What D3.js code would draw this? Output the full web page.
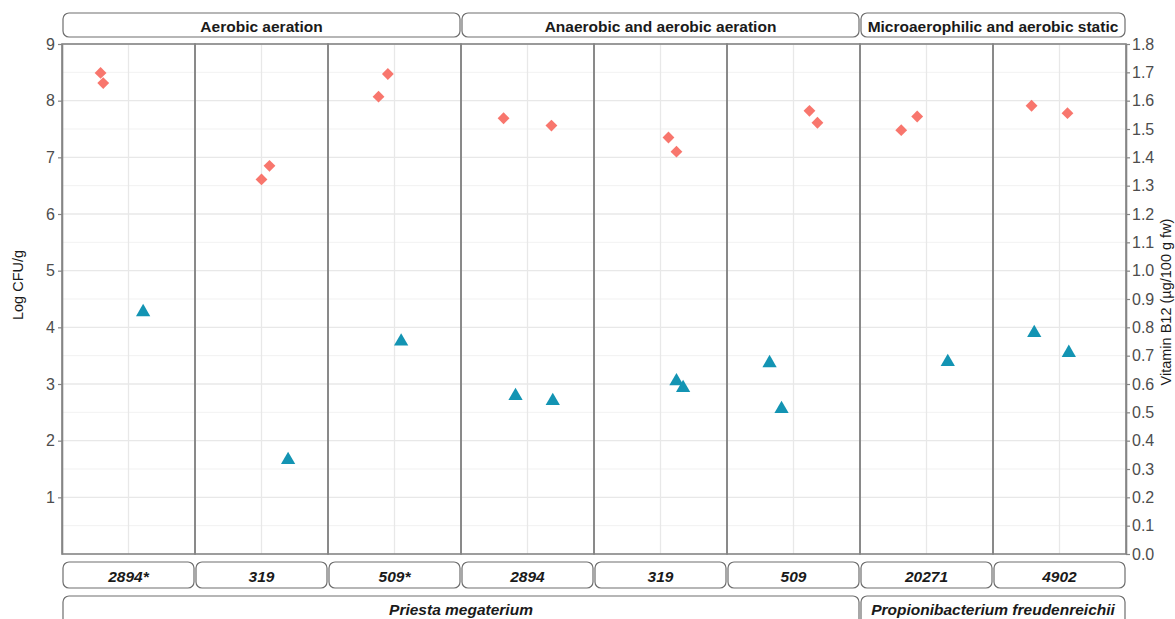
<!DOCTYPE html>
<html>
<head>
<meta charset="utf-8">
<script src="https://cdn.jsdelivr.net/npm/d3@7"></script>
<style>
  body { margin: 0; background: white; }
  text { font-family: "Liberation Sans", Arial, sans-serif; }
</style>
</head>
<body>
<script>
// DONNEES
const souches = ["2894*", "319", "509*", "2894", "319", "509", "20271", "4902"];

const conditions = ["Aerobic aeration", "Anaerobic and aerobic aeration", "Microaerophilic and aerobic static"];
const conditionDebut = [0, 3, 6];
const conditionFin = [2, 5, 7];

const especes = ["Priesta megaterium", "Propionibacterium freudenreichii"];
const especeDebut = [0, 6];
const especeFin = [5, 7];

// Log CFU/g (losanges rouges) : panneau, decalage dans le panneau, valeur
const cfuPanneau = [0, 0, 1, 1, 2, 2, 3, 3, 4, 4, 5, 5, 6, 6, 7, 7];
const cfuDecalage = [-0.21, -0.19, 0.00, 0.06, -0.12, -0.05, -0.18, 0.18, 0.06, 0.12, 0.12, 0.18, -0.19, -0.07, -0.21, 0.06];
const cfuValeur = [8.49, 8.31, 6.61, 6.85, 8.07, 8.47, 7.69, 7.56, 7.35, 7.10, 7.82, 7.61, 7.48, 7.72, 7.91, 7.78];

// Vitamine B12 µg/100 g fw (triangles bleus)
const b12Panneau = [0, 1, 2, 3, 3, 4, 4, 5, 5, 6, 7, 7];
const b12Decalage = [0.11, 0.20, 0.05, -0.09, 0.19, 0.12, 0.17, -0.18, -0.09, 0.16, -0.19, 0.07];
const b12Valeur = [0.854, 0.332, 0.750, 0.558, 0.540, 0.610, 0.586, 0.674, 0.512, 0.678, 0.780, 0.710];

const ticksGauche = [1, 2, 3, 4, 5, 6, 7, 8, 9];
const ticksDroite = [0.0, 0.1, 0.2, 0.3, 0.4, 0.5, 0.6, 0.7, 0.8, 0.9, 1.0, 1.1, 1.2, 1.3, 1.4, 1.5, 1.6, 1.7, 1.8];

// VARIABLE CADRE
const largeur = 1175;
const hauteur = 619;
const gauche = 62, droite = 1126, haut = 44, bas = 554;
const gris = "#858585";

const svg = d3.select("body")
  .append("svg")
  .attr("width", largeur)
  .attr("height", hauteur)
  .style("display", "block");

// échelles
const x = d3.scaleBand().domain(d3.range(souches.length)).range([gauche, droite]).padding(0);
const xPoint = (p, dec) => x(p) + x.bandwidth() / 2 + dec * x.bandwidth();
const yG = d3.scaleLinear().domain([0, 9]).range([bas, haut]);
const yD = d3.scaleLinear().domain([0, 1.8]).range([bas, haut]);

// grille
const grille = svg.append("g");
grille.selectAll(".mineur")
  .data(d3.range(0.5, 9, 1))
  .join("line")
  .attr("x1", gauche).attr("x2", droite)
  .attr("y1", d => yG(d)).attr("y2", d => yG(d))
  .attr("stroke", "#ededed").attr("stroke-width", 0.8);
grille.selectAll(".majeur")
  .data(ticksGauche)
  .join("line")
  .attr("x1", gauche).attr("x2", droite)
  .attr("y1", d => yG(d)).attr("y2", d => yG(d))
  .attr("stroke", "#e8e8e8").attr("stroke-width", 1.3);
grille.selectAll(".vert")
  .data(d3.range(souches.length))
  .join("line")
  .attr("x1", d => x(d) + x.bandwidth() / 2).attr("x2", d => x(d) + x.bandwidth() / 2)
  .attr("y1", haut).attr("y2", bas)
  .attr("stroke", "#e8e8e8").attr("stroke-width", 1.3);

// bordures des panneaux
svg.append("g").selectAll("rect")
  .data(d3.range(souches.length))
  .join("rect")
  .attr("x", d => x(d)).attr("y", haut)
  .attr("width", x.bandwidth()).attr("height", bas - haut)
  .attr("fill", "none").attr("stroke", gris).attr("stroke-width", 1.6);

// axes
const axeG = svg.append("g")
  .attr("transform", `translate(${gauche},0)`)
  .call(d3.axisLeft(yG).tickValues(ticksGauche).tickSize(4).tickSizeOuter(0).tickPadding(3).tickFormat(d3.format("d")));
const axeD = svg.append("g")
  .attr("transform", `translate(${droite},0)`)
  .call(d3.axisRight(yD).tickValues(ticksDroite).tickSize(4).tickSizeOuter(0).tickPadding(2).tickFormat(d3.format(".1f")));
[axeG, axeD].forEach(a => {
  a.select(".domain").attr("stroke", gris).attr("stroke-width", 1.6);
  a.selectAll(".tick line").attr("stroke", gris).attr("stroke-width", 1.2);
  a.selectAll(".tick text")
    .attr("fill", "#4d4d4d")
    .style("font-size", "16px")
    .style("font-family", "'Liberation Sans', Arial, sans-serif");
});

svg.append("text")
  .attr("transform", "translate(18,285) rotate(-90)")
  .attr("text-anchor", "middle")
  .attr("dominant-baseline", "central")
  .style("font-size", "14.5px")
  .attr("fill", "#1a1a1a")
  .text("Log CFU/g");

svg.append("text")
  .attr("transform", "translate(1166,302) rotate(-90)")
  .attr("text-anchor", "middle")
  .attr("dominant-baseline", "central")
  .style("font-size", "14.5px")
  .attr("fill", "#1a1a1a")
  .text("Vitamin B12 (µg/100 g fw)");

// bandeaux
function bandeau(x0, x1, y0, y1, ytexte, texte, style) {
  const g = svg.append("g");
  g.append("rect")
    .attr("x", x0).attr("y", y0)
    .attr("width", x1 - x0).attr("height", y1 - y0)
    .attr("rx", 6).attr("ry", 6)
    .attr("fill", "white").attr("stroke", "#6e6e6e").attr("stroke-width", 1.2);
  g.append("text")
    .attr("x", (x0 + x1) / 2).attr("y", ytexte)
    .attr("text-anchor", "middle")
    .attr("dominant-baseline", "central")
    .style("font-size", "15.5px")
    .style("font-weight", "bold")
    .style("font-style", style)
    .attr("fill", "#1a1a1a")
    .text(texte);
}

conditions.forEach((c, i) => {
  bandeau(x(conditionDebut[i]) + 1, x(conditionFin[i]) + x.bandwidth() - 1, 13, 37, 26, c, "normal");
});
souches.forEach((s, i) => {
  bandeau(x(i) + 1, x(i) + x.bandwidth() - 1, 562, 588, 576, s, "italic");
});
especes.forEach((e, i) => {
  bandeau(x(especeDebut[i]) + 1, x(especeFin[i]) + x.bandwidth() - 1, 596, 632, 609, e, "italic");
});

// points
const cfu = cfuValeur.map((v, i) => ({ p: cfuPanneau[i], dec: cfuDecalage[i], v: v }));
const b12 = b12Valeur.map((v, i) => ({ p: b12Panneau[i], dec: b12Decalage[i], v: v }));

svg.append("g").selectAll("path")
  .data(cfu)
  .join("path")
  .attr("d", d3.symbol(d3.symbolSquare, 70))
  .attr("transform", d => `translate(${xPoint(d.p, d.dec)},${yG(d.v)}) rotate(45)`)
  .attr("fill", "#F8766D");

svg.append("g").selectAll("path")
  .data(b12)
  .join("path")
  .attr("d", d3.symbol(d3.symbolTriangle, 88))
  .attr("transform", d => `translate(${xPoint(d.p, d.dec)},${yD(d.v)})`)
  .attr("fill", "#1394B3");
</script>
</body>
</html>
